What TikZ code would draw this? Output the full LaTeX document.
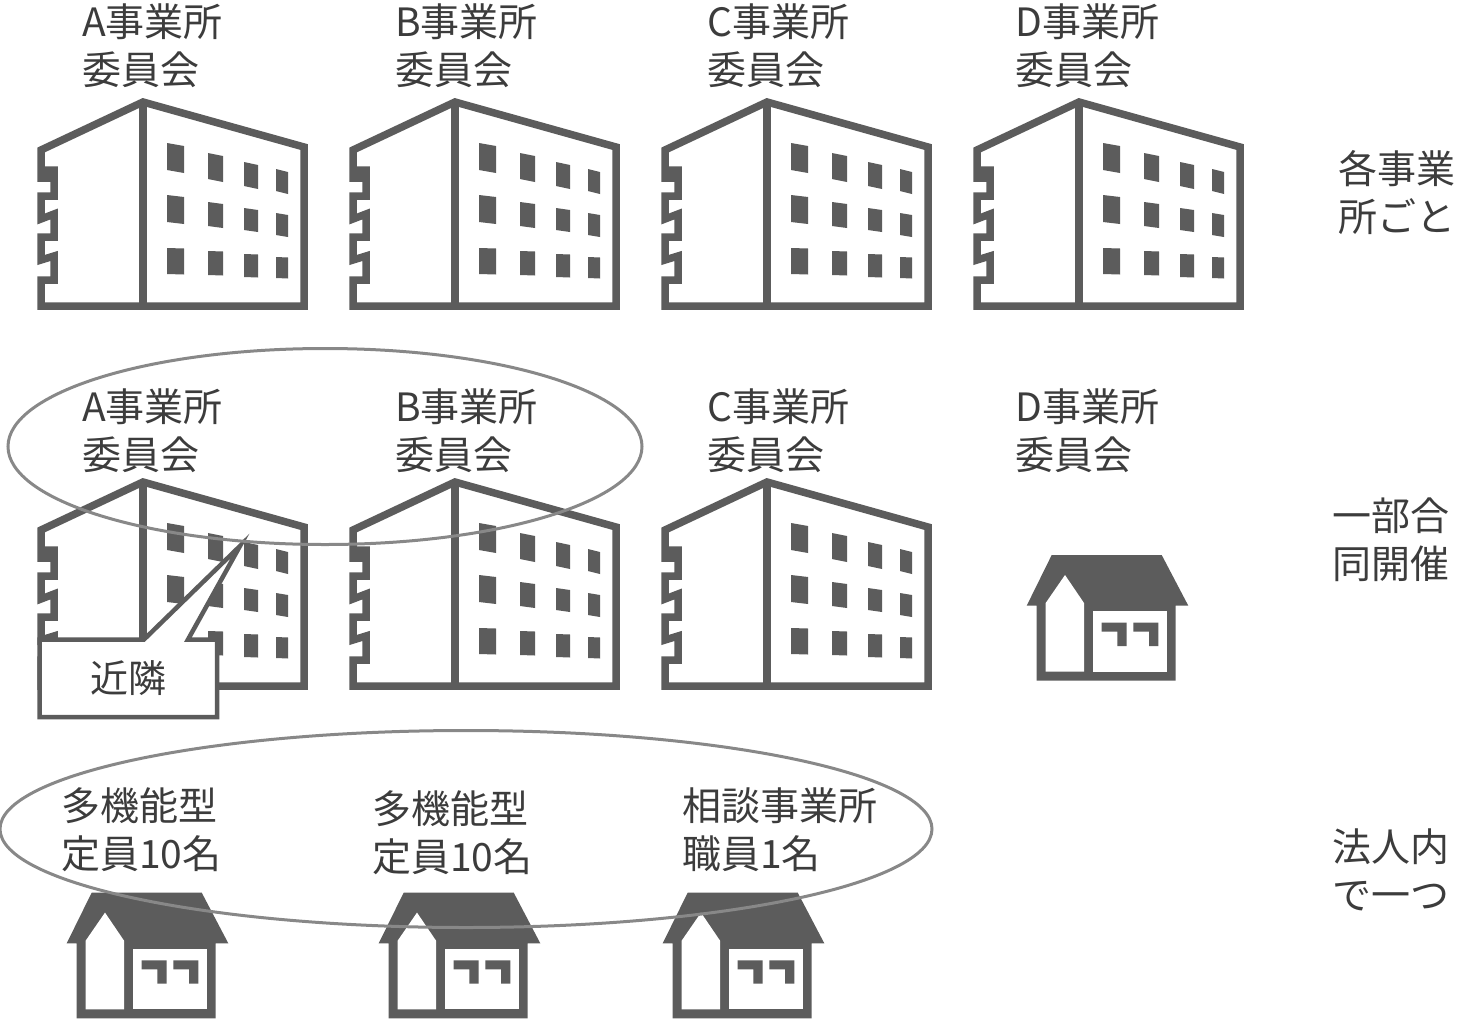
\documentclass[tikz,border=0pt]{standalone}
\usepackage{fontspec}
\usetikzlibrary{shapes.geometric}
\setmainfont{Noto Sans CJK JP}
\definecolor{wallgray}{HTML}{5C5C5C}
\definecolor{ringgray}{HTML}{888888}
\definecolor{textgray}{HTML}{3C3C3C}
\tikzset{
  wall/.style={draw=wallgray,line width=7.5pt,line join=miter},
  ring/.style={draw=ringgray,line width=3pt},
  lbl/.style={anchor=west,align=left,inner sep=0pt,text=textgray,
    font=\fontsize{39}{48}\selectfont},
  pics/bldg/.style={code={
    \draw[wall,fill=white] (-102,48) -- (0,0) -- (161,45) -- (161,204) -- (-102,204)
      -- (-102,178) -- (-89,178) -- (-89,154) -- (-102,158) -- (-102,135) -- (-89,135)
      -- (-89,112) -- (-102,117) -- (-102,94) -- (-89,94) -- (-89,68) -- (-95,68)
      -- (-95,76) -- (-102,76) -- cycle;
    \draw[wall] (0,0) -- (0,204);
    % windows, x/y/w/h/skew
    \foreach \wx/\wy/\ww/\wh/\wk in {24/41/17/27/3,24/93/17/27/2,24/146/17/26/.5,
        65/51/15/26/3,65/100/15/24/2,65/149/15/24/.5,
        101/60/14/24/3,101/106/14/22/2,101/152/14/23/.5,
        133/67/12/22/3,133/111/12/22/2,133/155/12/21/.5}
      \fill[wallgray] (\wx,\wy) -- ++(\ww,\wk) -- ++(0,\wh) -- (\wx,\wy+\wh) -- cycle;
  }},
  pics/hut/.style={code={
    \fill[wallgray] (41.7,15) -- (151.7,15) -- (178.3,65.7) -- (165.7,65.7) -- (165.7,140.7)
      -- (26.7,140.7) -- (26.7,65.7) -- (16.7,65.7) -- cycle;
    \fill[white] (55,35) -- (74,63) -- (74,131.7) -- (35.7,131.7) -- (35.7,63) -- cycle;
    \fill[white] (83.3,71) rectangle (156.7,131.7);
    \foreach \dx in {0,31.7}
      \fill[wallgray,xshift=\dx pt] (91.7,82.7) -- (116.7,82.7) -- (116.7,106) -- (107.3,106)
        -- (107.3,91.7) -- (91.7,91.7) -- cycle;
  }}
}
\begin{document}
\begin{tikzpicture}[x=1pt,y=-1pt]
  \useasboundingbox (0,0) rectangle (1459,1020);

  % row 1 and 2 buildings
  \foreach \bx in {143,455,767,1079}
    \pic at (\bx,102) {bldg};
  \foreach \bx in {143,455,767}
    \pic at (\bx,482) {bldg};

  % houses
  \pic at (1010,540) {hut};
  \foreach \hx in {50,362,646}
    \pic at (\hx,877.6) {hut};

  % office labels
  \foreach \nm/\lx in {A/82,B/395,C/707,D/1015} {
    \node[lbl] (top\nm) at (\lx,46) {\nm 事業所\\委員会};
    \node[lbl] (mid\nm) at (\lx,431) {\nm 事業所\\委員会};
  }
  \node[lbl] (lowA) at (61,830) {多機能型\\定員10名};
  \node[lbl] (lowB) at (372,833) {多機能型\\定員10名};
  \node[lbl] (lowC) at (682,830) {相談事業所\\職員1名};

  % right column
  \node[lbl] (sideA) at (1338,193) {各事業\\所ごと};
  \node[lbl] (sideB) at (1332,540) {一部合\\同開催};
  \node[lbl] (sideC) at (1332,870) {法人内\\で一つ};

  % callout
  \draw[draw=wallgray,line width=4.5pt,fill=white] (39.5,639.5) -- (144,639.5) -- (240,546)
    -- (188,639.5) -- (217,639.5) -- (217,717) -- (39.5,717) -- cycle;
  \node[lbl,font=\fontsize{38}{40}\selectfont] (near) at (90,678) {近隣};

  % groupings
  \node[ring,ellipse,minimum width=634pt,minimum height=196pt,inner sep=0pt] (ringA) at (325,446.5) {};
  \node[ring,ellipse,minimum width=932pt,minimum height=197pt,inner sep=0pt] (ringB) at (466,829) {};
\end{tikzpicture}
\end{document}
